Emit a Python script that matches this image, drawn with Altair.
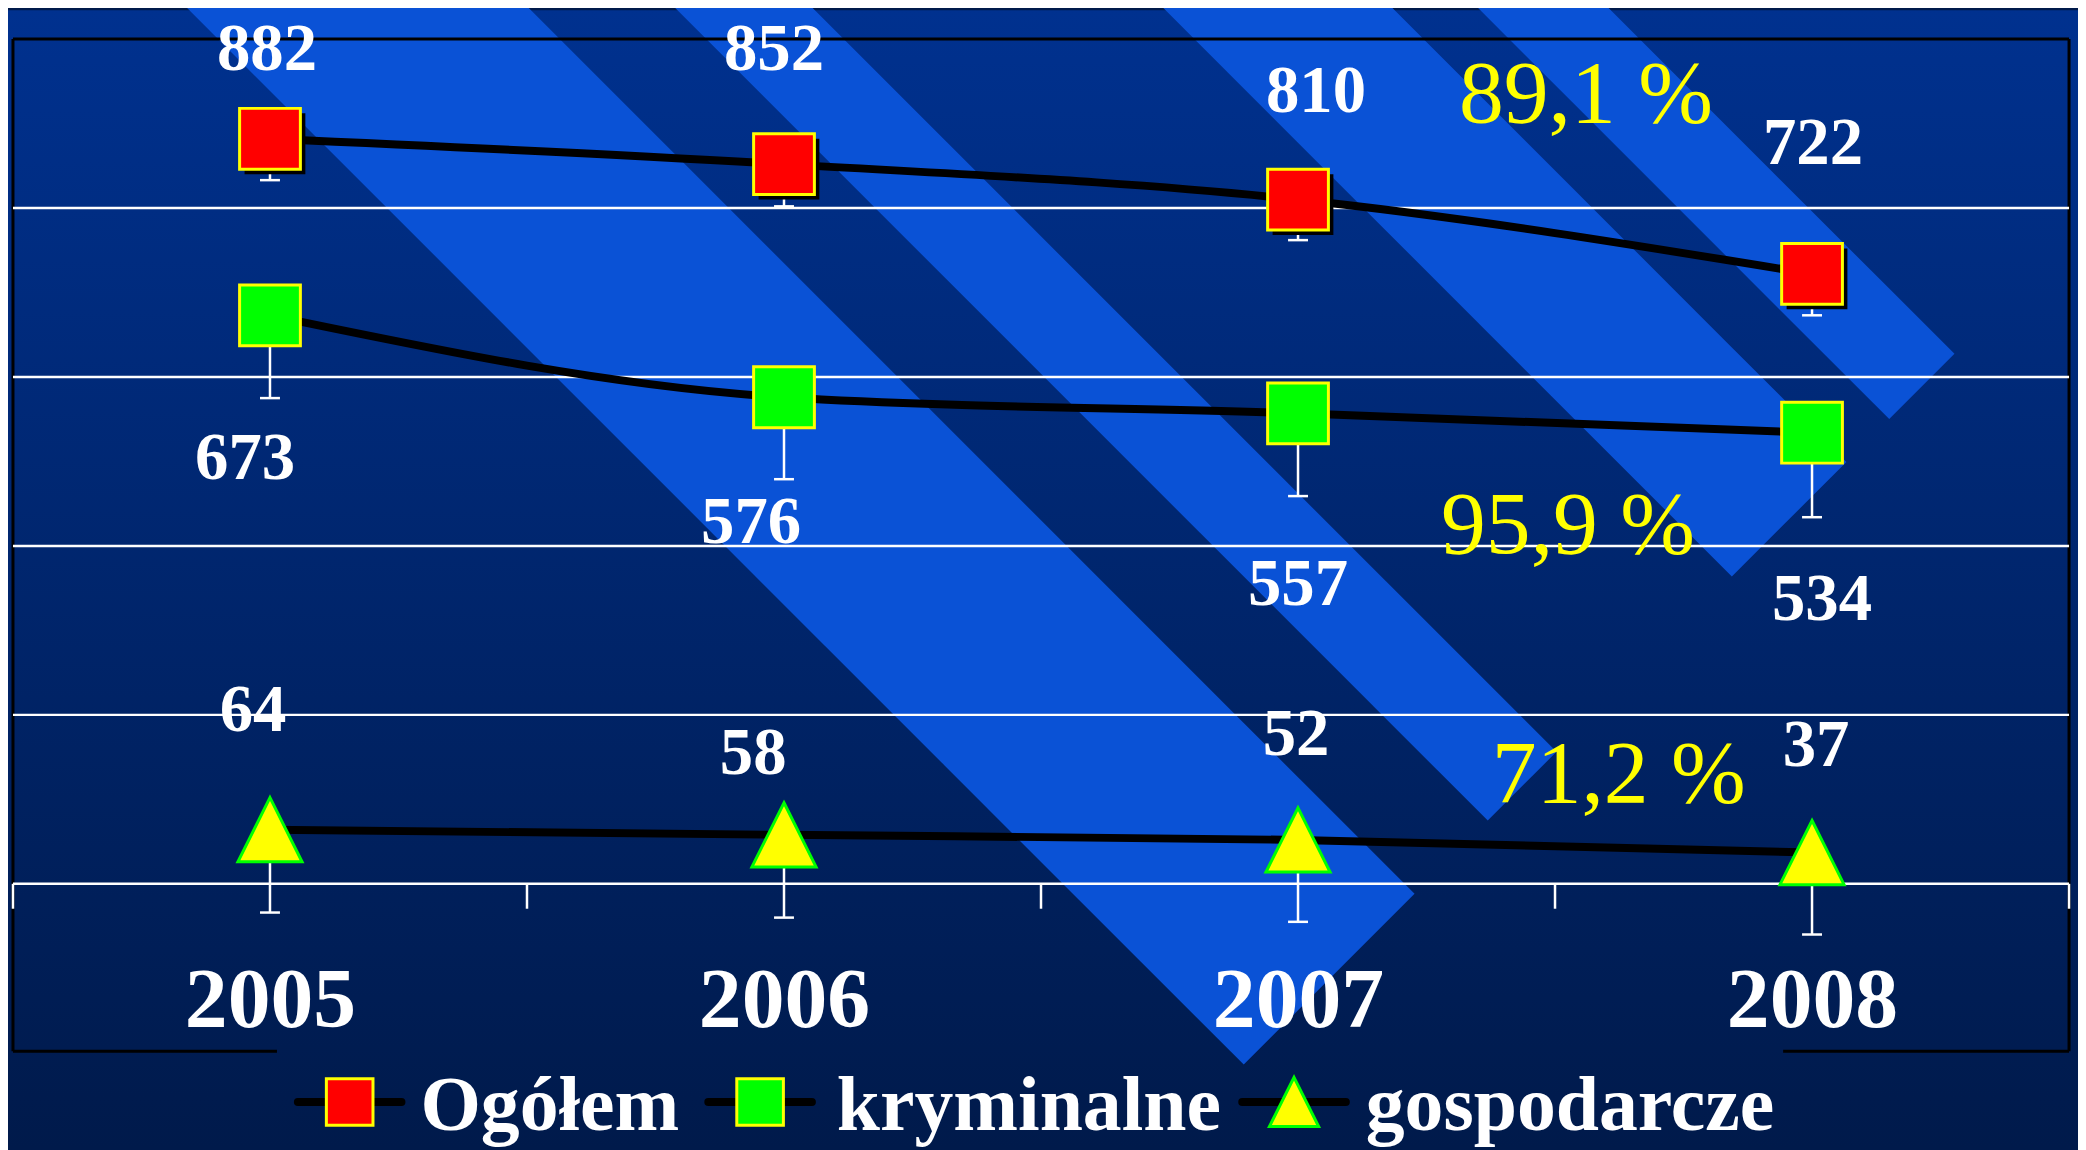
import altair as alt
import pandas as pd

# ---------------- data ----------------
years = ["2005", "2006", "2007", "2008"]
series = ["Ogółem", "kryminalne", "gospodarcze"]
ogolem = [882, 852, 810, 722]
kryminalne = [673, 576, 557, 534]
gospodarcze = [64, 58, 52, 37]
err_ogolem = [49, 50, 48, 49]
err_kryminalne = [98, 97, 98, 100]
err_gospodarcze = [98, 98, 97, 97]
grid_values = [0, 200, 400, 600, 800]

values = [ogolem, kryminalne, gospodarcze]
errors = [err_ogolem, err_kryminalne, err_gospodarcze]

# ---------------- layout / style ----------------
PLOT_W, PLOT_H = 2064, 1016
X0, Y0 = 13, 37                      # page position of plot origin
Y_TOP = 1000
PX_PER_UNIT = 0.848
Y_MIN = Y_TOP - PLOT_H / PX_PER_UNIT
UNIT_W = PLOT_W / len(years)
X_DOMAIN = [-0.5, len(years) - 0.5]
ZERO_PAGE_Y = Y0 + Y_TOP * PX_PER_UNIT

FONT = "Liberation Serif"
BG_TOP, BG_BOTTOM = "#00318f", "#001a4b"
STRIPE = "#0a52d6"
FILL = ["#ff0000", "#00ff00", "#ffff00"]
EDGE = ["#ffff00", "#ffff00", "#00ff00"]
SQUARE = "M-0.45,-0.45H0.45V0.45H-0.45Z"
TRIANGLE = "M0,-0.475L0.475,0.475L-0.475,0.475Z"
SHAPES = [SQUARE, SQUARE, TRIANGLE]
MARK_SIZE = 18380
LEG_SIZE = 10816

# label placement (pixels relative to the point)
label_dx_px = [[-3, -10, 18, 1], [-25, -33, 0, 10], [-17, -31, -2, 4]]
label_dy_px = [[-69, -94, -88, -110], [164, 146, 192, 188], [-99, -61, -85, -87]]
pct_dx_px = [31, 13, 64]
pct_dy_px = [-153, 121, -51]
TICK_LEN_PX = 25

# legend placement (page pixels)
LEG_SYM_PX = [351, 763, 1299]
LEG_LAB_PX = [422, 840, 1371]
LEG_SYM_PY = 1104
LEG_LAB_PY = 1132
LEG_BAR_HALF = 52

pad_left, pad_top = X0 - 8, Y0 - 8
pad_right = 2086 - (X0 + PLOT_W)
pad_bottom = 1142 - pad_top - PLOT_H


def px_to_x(px):
    return (px - X0) / UNIT_W - 0.5


def py_to_y(py):
    return (ZERO_PAGE_Y - py) / PX_PER_UNIT


rows = []
for s_i, name in enumerate(series):
    for i, yr in enumerate(years):
        v = values[s_i][i]
        rows.append({
            "idx": i, "year": yr, "series": name,
            "value": v, "lo": v - errors[s_i][i],
            "label_x": i + label_dx_px[s_i][i] / UNIT_W,
            "label_y": v - label_dy_px[s_i][i] / PX_PER_UNIT,
        })
df = pd.DataFrame(rows)

pct_rows = []
for s_i, name in enumerate(series):
    r = values[s_i][-1] / values[s_i][-2] * 100
    pct_rows.append({
        "txt": f"{r:.1f}".replace(".", ",") + " %",
        "px": len(years) - 1.5 + pct_dx_px[s_i] / UNIT_W,
        "py": values[s_i][-1] - pct_dy_px[s_i] / PX_PER_UNIT,
    })
pct_df = pd.DataFrame(pct_rows)

leg_df = pd.DataFrame({
    "series": series,
    "sx": [px_to_x(p) for p in LEG_SYM_PX],
    "lx": [px_to_x(p) for p in LEG_LAB_PX],
    "sy": py_to_y(LEG_SYM_PY),
    "ly": py_to_y(LEG_LAB_PY),
})

grid_df = pd.DataFrame({"g": grid_values})
tick_df = pd.DataFrame({"b": [i - 0.5 for i in range(len(years) + 1)],
                        "t": 0.0, "u": -TICK_LEN_PX / PX_PER_UNIT})

# decorative diagonal stripes of the slide background (page pixels -> data units)
STRIPE_EDGES = [(182, 525), (672, 810), (1162, 1392), (1478, 1609)]
CAP = 2315
YT = -20
srows = []
for k, (c1, c2) in enumerate(STRIPE_EDGES):
    pts = [
        (c1 + YT, YT, YT),
        (c2 + YT, YT, c2 + YT - c1),
        ((c1 + CAP) / 2, (c1 + CAP) / 2 - c2, (CAP - c1) / 2),
        ((c2 + CAP) / 2, (CAP - c2) / 2, (CAP - c2) / 2),
    ]
    for px, up, lo in pts:
        srows.append({"stripe": k, "sx": px_to_x(px), "sy": py_to_y(up), "sy2": py_to_y(lo)})
stripe_df = pd.DataFrame(srows)

one = pd.DataFrame({"a": [0]})

xscale = alt.Scale(domain=X_DOMAIN, nice=False, zero=False)
yscale = alt.Scale(domain=[Y_MIN, Y_TOP], nice=False, zero=False)
label_expr = "[" + ",".join(f"'{y}'" for y in years) + "][datum.value]"
xaxis = alt.Axis(values=list(range(len(years))), labelExpr=label_expr, domain=False,
                 ticks=False, tickSize=0, grid=False, labelFont=FONT, labelFontSize=86,
                 labelFontWeight="bold", labelColor="white", labelPadding=-25,
                 labelBaseline="alphabetic", labelAlign="center", labelFlush=False,
                 labelOverlap=False, title=None, zindex=1)

fill_enc = alt.Fill("series:N", scale=alt.Scale(domain=series, range=FILL), legend=None)
stroke_enc = alt.Stroke("series:N", scale=alt.Scale(domain=series, range=EDGE), legend=None)
shape_enc = alt.Shape("series:N", scale=alt.Scale(domain=series, range=SHAPES), legend=None)


def X(f):
    return alt.X(f, type="quantitative", scale=xscale, axis=xaxis)


def Y(f):
    return alt.Y(f, type="quantitative", scale=yscale, axis=None)


bg = alt.Chart(one).mark_rect(
    color=alt.LinearGradient(gradient="linear",
                             stops=[alt.GradientStop(color=BG_TOP, offset=0),
                                    alt.GradientStop(color=BG_BOTTOM, offset=1)],
                             x1=0, x2=0, y1=0, y2=1)
).encode(x=alt.value(-pad_left), x2=alt.value(PLOT_W + pad_right),
         y=alt.value(-pad_top), y2=alt.value(PLOT_H + pad_bottom))

stripes = alt.Chart(stripe_df).mark_area(color=STRIPE, opacity=1).encode(
    x=X("sx"), y=Y("sy"), y2="sy2", detail="stripe:N")

FR = dict(color="black", strokeWidth=3)
frame = [
    alt.Chart(one).mark_rule(**FR).encode(x=alt.value(0), x2=alt.value(PLOT_W), y=alt.value(0)),
    alt.Chart(one).mark_rule(**FR).encode(x=alt.value(0), y=alt.value(0), y2=alt.value(PLOT_H)),
    alt.Chart(one).mark_rule(**FR).encode(x=alt.value(PLOT_W), y=alt.value(0), y2=alt.value(PLOT_H)),
    alt.Chart(one).mark_rule(**FR).encode(x=alt.value(0), x2=alt.value(265), y=alt.value(PLOT_H)),
    alt.Chart(one).mark_rule(**FR).encode(x=alt.value(1777), x2=alt.value(PLOT_W), y=alt.value(PLOT_H)),
]

grid = alt.Chart(grid_df).mark_rule(color="white", strokeWidth=2.5).encode(
    y=Y("g"), x=alt.value(0), x2=alt.value(PLOT_W))

ticks = alt.Chart(tick_df).mark_rule(color="white", strokeWidth=2.5).encode(
    x=X("b"), y=Y("t"), y2="u")

err = alt.Chart(df).mark_rule(color="white", strokeWidth=2.5).encode(
    x=X("idx"), y=Y("value"), y2="lo")
caps = alt.Chart(df).mark_rule(color="white", strokeWidth=2.5, xOffset=-10, x2Offset=10).encode(
    x=X("idx"), x2="idx", y=Y("lo"))

lines = alt.Chart(df).mark_line(color="black", strokeWidth=8, interpolate="monotone").encode(
    x=X("idx"), y=Y("value"), detail="series:N")

shadow = alt.Chart(df).transform_filter(alt.datum.series == series[0]).mark_point(
    filled=True, color="black", opacity=1, shape=SQUARE, size=MARK_SIZE, xOffset=5, yOffset=5
).encode(x=X("idx"), y=Y("value"))

points = alt.Chart(df).mark_point(filled=True, opacity=1, strokeWidth=3, size=MARK_SIZE).encode(
    x=X("idx"), y=Y("value"), fill=fill_enc, stroke=stroke_enc, shape=shape_enc)

labels = alt.Chart(df).mark_text(font=FONT, fontSize=67, fontWeight="bold", color="white",
                                 baseline="alphabetic", align="center").encode(
    x=X("label_x"), y=Y("label_y"), text=alt.Text("value:Q"))

pct = alt.Chart(pct_df).mark_text(font=FONT, fontSize=90, color="#ffff00",
                                  baseline="alphabetic", align="center").encode(
    x=X("px"), y=Y("py"), text="txt:N")

# legend (line sample + marker + name)
leg_bars = alt.Chart(leg_df).mark_rule(color="black", strokeWidth=8, strokeCap="round",
                                       xOffset=-LEG_BAR_HALF, x2Offset=LEG_BAR_HALF).encode(
    x=X("sx"), x2="sx", y=Y("sy"))
leg_marks = alt.Chart(leg_df).mark_point(filled=True, opacity=1, strokeWidth=3, size=LEG_SIZE).encode(
    x=X("sx"), y=Y("sy"), fill=fill_enc, stroke=stroke_enc, shape=shape_enc)
leg_text = alt.Chart(leg_df).mark_text(font=FONT, fontSize=78, fontWeight="bold", color="white",
                                       baseline="alphabetic", align="left").encode(
    x=X("lx"), y=Y("ly"), text="series:N")

chart = alt.layer(bg, stripes, *frame, grid, ticks, err, caps, lines, shadow, points, labels, pct,
                  leg_bars, leg_marks, leg_text
).properties(
    width=PLOT_W, height=PLOT_H,
    padding={"left": pad_left, "top": pad_top, "right": pad_right, "bottom": pad_bottom},
    autosize=alt.AutoSizeParams(type="none"),
).configure(background=BG_BOTTOM).configure_view(stroke="transparent")

chart.save("out.html", embed_options={"renderer": "svg", "actions": False})
